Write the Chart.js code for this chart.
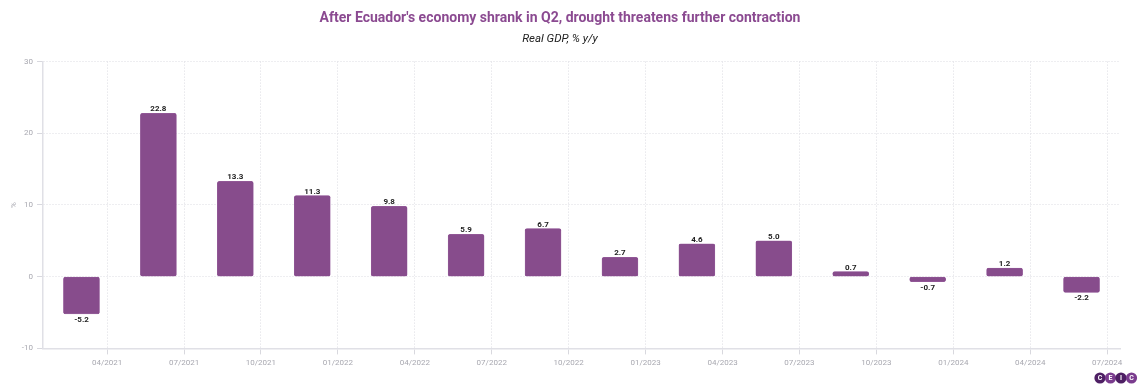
<!DOCTYPE html>
<html>
<head>
<meta charset="utf-8">
<script src="https://cdn.jsdelivr.net/npm/chart.js@4.4.1/dist/chart.umd.min.js"></script>
<style>
  html, body { margin: 0; padding: 0; background: #fff; }
  #wrap { width: 1140px; height: 390px; }
</style>
</head>
<body>
<div id="wrap"><canvas id="gdpChart"></canvas></div>
<script>
// Real GDP, % y/y, quarterly
const quarters = ['2021Q1', '2021Q2', '2021Q3', '2021Q4', '2022Q1', '2022Q2', '2022Q3',
  '2022Q4', '2023Q1', '2023Q2', '2023Q3', '2023Q4', '2024Q1', '2024Q2'];
const gdpGrowth = [-5.2, 22.8, 13.3, 11.3, 9.8, 5.9, 6.7, 2.7, 4.6, 5.0, 0.7, -0.7, 1.2, -2.2];
const tickLabels = ['04/2021', '07/2021', '10/2021', '01/2022', '04/2022', '07/2022', '10/2022',
  '01/2023', '04/2023', '07/2023', '10/2023', '01/2024', '04/2024', '07/2024'];
const yTicks = [-10, 0, 10, 20, 30];

// x axis counted in months from 01/2021
const barMonth = i => 2 + 3 * i;
const tickMonth = i => 3 + 3 * i;

const purple = '#874c8c';
const gridColor = '#dcdce2';
const labelColor = '#a8a8b0';

const valueLabels = {
  id: 'valueLabels',
  afterDatasetsDraw(chart) {
    const ctx = chart.ctx;
    const meta = chart.getDatasetMeta(0);
    ctx.save();
    ctx.font = 'bold 8px Roboto';
    ctx.fillStyle = '#222';
    ctx.textAlign = 'center';
    meta.data.forEach((bar, i) => {
      const v = gdpGrowth[i];
      if (v >= 0) {
        ctx.textBaseline = 'bottom';
        ctx.fillText(v.toFixed(1), bar.x, bar.y);
      } else {
        ctx.textBaseline = 'top';
        ctx.fillText(v.toFixed(1), bar.x, bar.y + 2);
      }
    });
    ctx.restore();
  }
};

const logo = {
  id: 'logo',
  afterDraw(chart) {
    const ctx = chart.ctx;
    const letters = ['C', 'E', 'I', 'C'];
    ctx.save();
    letters.forEach((l, i) => {
      const cx = 1100 + i * 10.5, cy = 378;
      ctx.beginPath();
      ctx.arc(cx, cy, 5.6, 0, Math.PI * 2);
      ctx.fillStyle = i % 2 ? '#7a3c8e' : '#4e1f64';
      ctx.fill();
      ctx.fillStyle = '#fff';
      ctx.font = 'bold 7px Roboto';
      ctx.textAlign = 'center';
      ctx.textBaseline = 'middle';
      ctx.fillText(l, cx, cy + 0.5);
    });
    ctx.restore();
  }
};

new Chart(document.getElementById('gdpChart'), {
  type: 'bar',
  data: {
    datasets: [{
      label: 'Real GDP',
      data: quarters.map((q, i) => ({ x: barMonth(i), y: gdpGrowth[i] })),
      backgroundColor: purple,
      borderColor: '#9a62a0',
      borderWidth: 0.5,
      borderRadius: 2,
      borderSkipped: false,
      barThickness: 36
    }]
  },
  options: {
    responsive: true,
    maintainAspectRatio: false,
    animation: false,
    layout: { padding: { left: 0, right: 20, top: 0, bottom: 18 } },
    plugins: {
      legend: { display: false },
      tooltip: { enabled: false },
      title: {
        display: true,
        text: "After Ecuador's economy shrank in Q2, drought threatens further contraction",
        color: '#8b4a91',
        font: { family: 'Roboto', size: 14, weight: 'bold' },
        padding: { top: 10, bottom: 5 }
      },
      subtitle: {
        display: true,
        text: 'Real GDP, % y/y',
        color: '#222',
        font: { family: 'Roboto', size: 11.5, style: 'italic' },
        padding: { bottom: 16 }
      }
    },
    scales: {
      x: {
        type: 'linear',
        offset: false,
        min: 0.5,
        max: 42.5,
        afterBuildTicks(scale) {
          scale.ticks = tickLabels.map((t, i) => ({ value: tickMonth(i) }));
        },
        ticks: {
          autoSkip: false,
          maxRotation: 0,
          color: labelColor,
          font: { family: 'Roboto', size: 8 },
          padding: 4,
          callback: (v) => tickLabels[Math.round((v - 3) / 3)]
        },
        grid: {
          offset: false,
          color: gridColor,
          tickColor: '#d8d8de',
          tickLength: 6
        },
        border: { color: '#e0e0e6', width: 1.5, dash: [1, 2] }
      },
      y: {
        min: -10,
        max: 30,
        afterBuildTicks(scale) {
          scale.ticks = yTicks.map(v => ({ value: v }));
        },
        afterFit(scale) { scale.width = 43; },
        ticks: {
          color: labelColor,
          font: { family: 'Roboto', size: 8 },
          padding: 4
        },
        title: {
          display: true,
          text: '%',
          color: labelColor,
          font: { family: 'Roboto', size: 8 },
          padding: { top: 9, bottom: 0 }
        },
        grid: {
          color: gridColor,
          tickColor: '#d8d8de',
          tickLength: 6
        },
        border: { color: '#e0e0e6', width: 1.5, dash: [1, 2] }
      }
    }
  },
  plugins: [valueLabels, logo]
});
</script>
</body>
</html>
